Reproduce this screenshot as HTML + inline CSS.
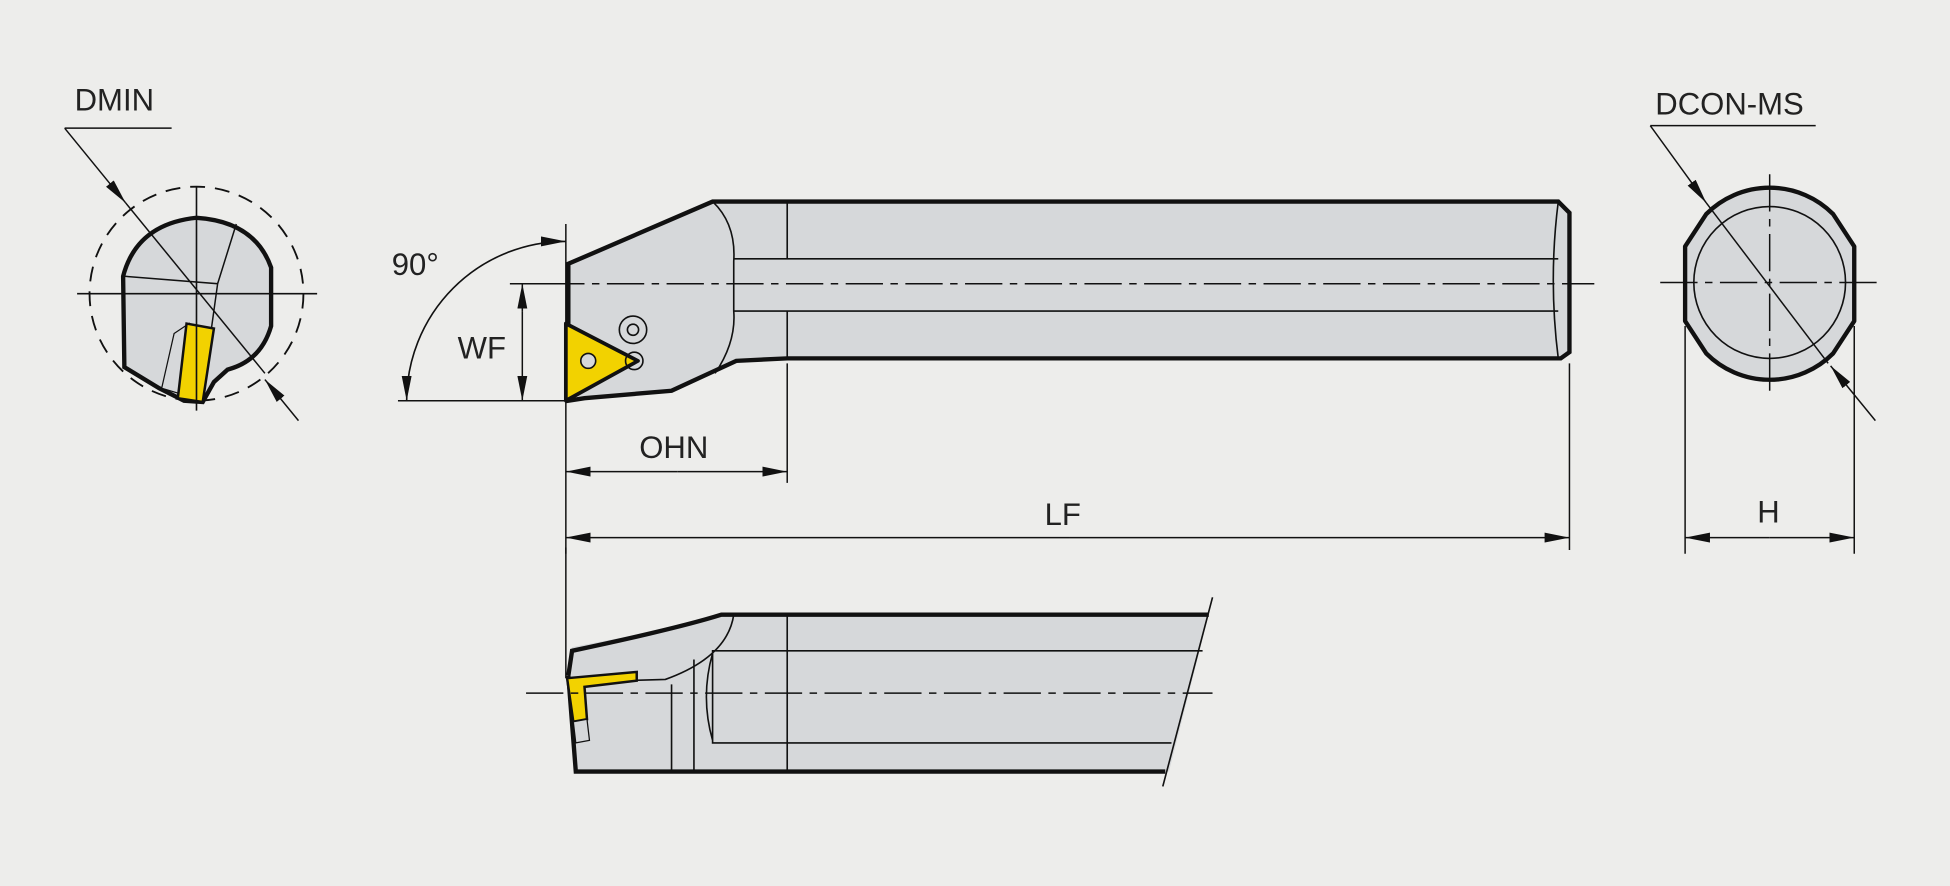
<!DOCTYPE html>
<html><head><meta charset="utf-8"><style>
html,body{margin:0;padding:0;background:#ededeb;}
svg{display:block}
text{font-family:"Liberation Sans",sans-serif;font-size:25px;fill:#222;}
</style></head><body>
<svg width="1950" height="886" viewBox="0 0 1568 712" preserveAspectRatio="none" xmlns="http://www.w3.org/2000/svg">
<defs>
<marker id="a" viewBox="0 0 20 8" refX="20" refY="4" markerWidth="20" markerHeight="8" markerUnits="userSpaceOnUse" orient="auto-start-reverse"><path d="M0,0 L20,4 L0,8z" fill="#111"/></marker>
</defs>
<rect width="1568" height="712" fill="#ededeb"/>
<g stroke="#111" fill="none">
<!-- LEFT END VIEW -->
<circle cx="158" cy="236" r="86" stroke-dasharray="12,8" stroke-width="1.5"/>
<path d="M99,222 Q110,180 158,175 Q205,178 218,215 L218,262 Q210,290 183,297 L172,307 L163,323 L148,322 L128,312 L100,295 Z" fill="#d6d8da" stroke-width="3.5"/>
<path d="M100,222 L175,228 L165,300 M190,180 L175,228" stroke-width="1.2"/>
<path d="M140,268 L152,260 L150,318 L130,312 Z" fill="#d6d8da" stroke-width="1"/>
<path d="M150,260 L172,264 L163,323 L143,320 Z" fill="#f2d200" stroke-width="2"/>
<path d="M62,236 L255,236 M158,150 L158,330" stroke-width="1.3"/>
<path d="M52,103 L138,103" stroke-width="1.2"/>
<path d="M52,103 L101,163" stroke-width="1.2" marker-end="url(#a)"/>
<path d="M101,163 L213,300" stroke-width="1.2"/>
<path d="M240,338 L213,305" stroke-width="1.2" marker-end="url(#a)"/>
<!-- MAIN TOP VIEW -->
<path d="M457,212 L573,162 L1253,162 L1262,171 L1262,283 L1255,288 L633,288 L592,290 L540,314 L470,320 L457,322 Z" fill="#d6d8da" stroke-width="3.5"/>
<path d="M633,162 L633,208 M633,250 L633,288 M590,208 L1253,208 M590,250 L1253,250 M573,162 Q592,180 590,210 L590,250 Q592,275 575,300 M1253,162 Q1245,225 1253,288" stroke-width="1.3"/>
<path d="M455,260 L513,290 L455,322 Z" fill="#f2d200" stroke-width="3" stroke-linejoin="round"/>
<circle cx="473" cy="290" r="6" fill="#d6d8da" stroke-width="1.3"/>
<circle cx="510" cy="290" r="7" stroke-width="1.3"/>
<circle cx="509" cy="265" r="11" stroke-width="1.3"/>
<circle cx="509" cy="265" r="4.5" stroke-width="1.3"/>
<path d="M440,228 L1282,228" stroke-width="1.2" stroke-dasharray="30,6,6,6"/>
<path d="M410,228 L455,228 M320,322 L455,322 M455,180 L455,445 M633,292 L633,388 M1262,292 L1262,442" stroke-width="1.2"/>
<path d="M420,250 L420,228" stroke-width="1.2" marker-end="url(#a)"/>
<path d="M420,250 L420,322" stroke-width="1.2" marker-end="url(#a)"/>
<path d="M327,322 A128,128 0 0 1 455,194" stroke-width="1.3" marker-start="url(#a)" marker-end="url(#a)"/>
<path d="M545,379 L455,379" stroke-width="1.2" marker-end="url(#a)"/>
<path d="M545,379 L633,379" stroke-width="1.2" marker-end="url(#a)"/>
<path d="M860,432 L455,432" stroke-width="1.2" marker-end="url(#a)"/>
<path d="M860,432 L1262,432" stroke-width="1.2" marker-end="url(#a)"/>
<!-- RIGHT END VIEW -->
<path d="M1355,198 L1372,172 A72,72 0 0 1 1474,172 L1491,198 L1491,258 L1474,284 A72,72 0 0 1 1372,284 L1355,258 Z" fill="#d6d8da" stroke-width="3.5" stroke-linejoin="round"/>
<circle cx="1423" cy="227" r="61" stroke-width="1.3"/>
<path d="M1335,227 L1512,227" stroke-width="1.2" stroke-dasharray="30,6,6,6"/>
<path d="M1423,140 L1423,318" stroke-width="1.2" stroke-dasharray="30,6,6,6"/>
<path d="M1327,101 L1460,101" stroke-width="1.2"/>
<path d="M1327,101 L1372,163" stroke-width="1.2" marker-end="url(#a)"/>
<path d="M1372,163 L1470,292" stroke-width="1.2"/>
<path d="M1508,338 L1472,294" stroke-width="1.2" marker-end="url(#a)"/>
<path d="M1355,262 L1355,445 M1491,262 L1491,445" stroke-width="1.2"/>
<path d="M1423,432 L1355,432" stroke-width="1.2" marker-end="url(#a)"/>
<path d="M1423,432 L1491,432" stroke-width="1.2" marker-end="url(#a)"/>
<!-- BOTTOM SIDE VIEW -->
<path d="M457,543 L460,520 Q540,505 586,494 L972,494 L940,620 L463,620 Z" fill="#d6d8da" stroke="none"/>
<path d="M457,543 L463,620 L937,620 M457,543 L460,523 Q545,505 580,494 L972,494" stroke-width="3.5"/>
<path d="M975,480 L935,632" stroke-width="1.3"/>
<path d="M590,494 Q585,528 535,546 L468,548 M633,494 L633,620 M633,523 L967,523 M633,597 L942,597 M633,523 L573,523 L573,597 L633,597 M573,525 Q563,560 573,595 M540,550 L540,620 M558,530 L558,620" stroke-width="1.3"/>
<path d="M456,545 L512,540 L512,547 L470,552 L472,578 L461,580 Z" fill="#f2d200" stroke-width="2"/>
<path d="M461,580 L472,578 L474,595 L463,597 Z" fill="#d6d8da" stroke-width="1"/>
<path d="M423,557 L975,557" stroke-width="1.2" stroke-dasharray="30,6,6,6"/>
<path d="M455,440 L455,545" stroke-width="1.2"/>
</g>
<text x="60" y="89">DMIN</text>
<text x="315" y="221">90°</text>
<text x="368" y="288">WF</text>
<text x="514" y="368">OHN</text>
<text x="840" y="422">LF</text>
<text x="1331" y="92">DCON-MS</text>
<text x="1413" y="420">H</text>
</svg>
</body></html>
